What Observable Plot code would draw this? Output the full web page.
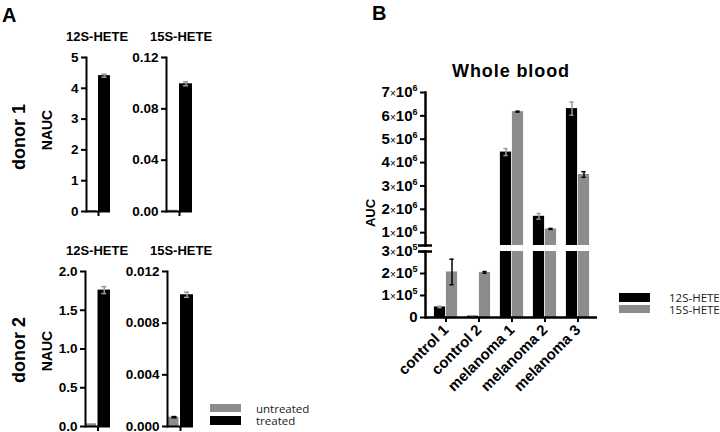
<!DOCTYPE html>
<html><head><meta charset="utf-8">
<script src="https://cdn.jsdelivr.net/npm/d3@7"></script>
<script src="https://cdn.jsdelivr.net/npm/@observablehq/plot@0.6"></script>
<style>
body{margin:0;background:#fff;}
#root{position:relative;width:720px;height:432px;overflow:hidden;background:#fff;}
.t{position:absolute;white-space:nowrap;line-height:1;}
.sw{position:absolute;}
</style></head>
<body><div id="root"></div>
<script>
// ---------------- DATA ----------------
// Panel A
const treatments = ["untreated", "treated"];
const treatmentColors = ["#8c8c8c", "#000000"];
const donors = ["donor 1", "donor 2"];
const lipids = ["12S-HETE", "15S-HETE"];
const d1Hete12 = [0.03, 4.41];
const d1Hete12Err = [0, 0.05];
const d1Hete15 = [0.001, 0.0995];
const d1Hete15Err = [0, 0.0015];
const d2Hete12 = [0.035, 1.76];
const d2Hete12Err = [0, 0.045];
const d2Hete15 = [0.00072, 0.0102];
const d2Hete15Err = [0.00005, 0.0002];
const ticksD1Hete12 = [0, 1, 2, 3, 4, 5];
const ticksD1Hete15 = [0, 0.04, 0.08, 0.12];
const ticksD2Hete12 = [0, 0.5, 1.0, 1.5, 2.0];
const ticksD2Hete15 = [0, 0.004, 0.008, 0.012];
// Panel B
const groupsB = ["control 1", "control 2", "melanoma 1", "melanoma 2", "melanoma 3"];
const seriesB = ["12S-HETE", "15S-HETE"];
const seriesColors = ["#000000", "#8c8c8c"];
const auc12 = [0.48e5, 0.06e5, 4.45e6, 1.70e6, 6.31e6];
const auc12Err = [0.03e5, 0.01e5, 0.15e6, 0.12e6, 0.28e6];
const auc15 = [2.07e5, 2.05e5, 6.18e6, 1.16e6, 3.49e6];
const auc15Err = [0.58e5, 0.04e5, 0.02e6, 0.02e6, 0.12e6];
const upperTicks = [1e6, 2e6, 3e6, 4e6, 5e6, 6e6, 7e6];
const lowerTicks = [0, 1e5, 2e5, 3e5];
const upperDomain = [0.45e6, 7e6];
const lowerDomain = [0, 3e5];

// ---------------- HELPERS ----------------
const FONT = '"Liberation Sans", Arial, Helvetica, sans-serif';
const LFONT = '"Open Sans", "DejaVu Sans", sans-serif';
const ERR_ON_BLACK = "#9a9a9a";
const root = document.getElementById("root");

function place(node, left, top) {
  const d = document.createElement("div");
  d.style.position = "absolute";
  d.style.left = left + "px";
  d.style.top = top + "px";
  d.appendChild(node);
  root.appendChild(d);
}
function label(text, x, baseline, {size = 13, weight = "bold", anchor = "start", family = FONT, color = "#000", ls = 0} = {}) {
  const d = document.createElement("div");
  d.className = "t";
  d.textContent = text;
  d.style.fontSize = size + "px";
  d.style.fontWeight = weight;
  d.style.fontFamily = family;
  d.style.color = color;
  d.style.letterSpacing = ls + "px";
  d.style.top = (baseline - 0.8465 * size) + "px";
  d.style.left = x + "px";
  if (anchor === "middle") d.style.transform = "translateX(-50%)";
  root.appendChild(d);
}
function vlabel(text, cx, cy, {size = 13, weight = "bold", family = FONT} = {}) {
  const d = document.createElement("div");
  d.className = "t";
  d.textContent = text;
  d.style.fontSize = size + "px";
  d.style.fontWeight = weight;
  d.style.fontFamily = family;
  d.style.left = cx + "px";
  d.style.top = cy + "px";
  d.style.transform = "translate(-50%,-50%) rotate(-90deg)";
  root.appendChild(d);
}
function swatch(x, y, w, h, color) {
  const d = document.createElement("div");
  d.className = "sw";
  Object.assign(d.style, {left: x + "px", top: y + "px", width: w + "px", height: h + "px", background: color});
  root.appendChild(d);
}
const baseStyle = {background: "none", overflow: "visible", maxWidth: "none", fontFamily: FONT, fontWeight: "bold", color: "black"};

// ---------------- PANEL A ----------------
function pairChart({group, values, errors, ticks, format, axisX, right, top, bottom}) {
  const ML = 42, MT = 10, MR = 4, MB = 8;
  const bw = right - axisX;
  const cap = 5;
  const data = treatments.map((t, i) => ({group, t, v: values[i], e: errors[i]}));
  const un = data.filter(d => d.t === "untreated");
  const tr = data.filter(d => d.t === "treated");
  const unE = un.filter(d => d.e > 0), trE = tr.filter(d => d.e > 0);
  const errMarks = (rows, dx, color) => [
    Plot.ruleX(rows, {x: "group", y1: d => d.v - d.e, y2: d => d.v + d.e, dx, stroke: color, strokeWidth: 1.5}),
    Plot.tickY(rows, {x: "group", y: d => d.v + d.e, insetLeft: bw / 2 + dx - cap / 2, insetRight: bw / 2 - dx - cap / 2, stroke: color, strokeWidth: 1.5}),
    Plot.tickY(rows, {x: "group", y: d => d.v - d.e, insetLeft: bw / 2 + dx - cap / 2, insetRight: bw / 2 - dx - cap / 2, stroke: color, strokeWidth: 1.5})
  ];
  const p = Plot.plot({
    width: ML + bw + MR, height: MT + (bottom - top) + MB,
    marginLeft: ML, marginRight: MR, marginTop: MT, marginBottom: MB,
    style: baseStyle,
    x: {domain: [group], padding: 0},
    y: {domain: [0, ticks[ticks.length - 1]]},
    marks: [
      Plot.barY(un, {x: "group", y: "v", fill: treatmentColors[0], insetLeft: 1, insetRight: bw / 2 + 1.5}),
      Plot.barY(tr, {x: "group", y: "v", fill: treatmentColors[1], insetLeft: bw / 2}),
      ...errMarks(trE, bw / 4, ERR_ON_BLACK),
      ...errMarks(unE, -bw / 4 + 0.5, "#000"),
      Plot.ruleY([0], {strokeWidth: 2}),
      Plot.frame({anchor: "left", strokeWidth: 2}),
      Plot.axisY({ticks, tickFormat: format, tickSize: 5, tickPadding: 3, strokeWidth: 2, fontSize: 13.5, fontWeight: "bold", fill: "#000", label: null}),
      Plot.axisX({tickSize: 5, strokeWidth: 2, tickFormat: () => "", label: null})
    ]
  });
  place(p, axisX - ML, top - MT);
}

pairChart({group: donors[0], values: d1Hete12, errors: d1Hete12Err, ticks: ticksD1Hete12, format: d3.format("d"), axisX: 86, right: 110, top: 57, bottom: 211});
pairChart({group: donors[0], values: d1Hete15, errors: d1Hete15Err, ticks: ticksD1Hete15, format: d3.format(".2f"), axisX: 166, right: 192, top: 57, bottom: 211});
pairChart({group: donors[1], values: d2Hete12, errors: d2Hete12Err, ticks: ticksD2Hete12, format: d3.format(".1f"), axisX: 85, right: 110, top: 271, bottom: 426});
pairChart({group: donors[1], values: d2Hete15, errors: d2Hete15Err, ticks: ticksD2Hete15, format: d3.format(".3f"), axisX: 167, right: 193, top: 271, bottom: 426});

label("A", 2, 22, {size: 20});
label(lipids[0], 97, 41, {size: 13, anchor: "middle"});
label(lipids[1], 181, 41, {size: 13, anchor: "middle"});
label(lipids[0], 97, 255, {size: 13, anchor: "middle"});
label(lipids[1], 181, 255, {size: 13, anchor: "middle"});
vlabel("NAUC", 47, 130, {size: 14});
vlabel("NAUC", 47, 351, {size: 14});
vlabel(donors[0], 19, 137, {size: 18});
vlabel(donors[1], 19, 350, {size: 18});
// legend A
swatch(210, 404, 31, 8, treatmentColors[0]);
swatch(210, 416, 31, 9, treatmentColors[1]);
label(treatments[0], 256, 412.5, {size: 11.5, weight: "normal", family: LFONT, color: "#222"});
label(treatments[1], 256, 425, {size: 11.5, weight: "normal", family: LFONT, color: "#222"});

// ---------------- PANEL B ----------------
const rowsB = groupsB.map((g, i) => ({g, a: auc12[i], ae: auc12Err[i], b: auc15[i], be: auc15Err[i]}));

function supText(svg) {
  svg.querySelectorAll("text").forEach(t => {
    const m = /^(.+)×10\^(\d+)$/.exec(t.textContent);
    if (!m) return;
    t.textContent = "";
    const add = (s, attrs) => {
      const ts = document.createElementNS("http://www.w3.org/2000/svg", "tspan");
      ts.textContent = s;
      for (const k in attrs) ts.setAttribute(k, attrs[k]);
      t.appendChild(ts);
    };
    add(m[1], {});
    add("×", {"font-size": 10, "font-weight": "normal"});
    add("10", {});
    add(m[2], {"font-size": 9, dy: -6});
  });
}

function segment({domain, ticks, format, svgTop, frameTop, frameBottom, MB, showX}) {
  const ML = 65, MR = 0, axisX = 425, right = 597;
  const MT = frameTop - svgTop;
  const padOuter = 0.044;
  const step = (right - axisX) / (groupsB.length + 2 * padOuter);
  const half = step / 2, bar = 12, cap = 5;
  const inA = d => d.a > domain[0] && d.a < domain[1];
  const inB = d => d.b > domain[0] && d.b < domain[1];
  const errMarks = (rows, val, err, dx, color) => [
    Plot.ruleX(rows, {x: "g", y1: d => val(d) - err(d), y2: d => val(d) + err(d), dx, stroke: color, strokeWidth: 1.5}),
    Plot.tickY(rows, {x: "g", y: d => val(d) + err(d), insetLeft: half + dx - cap / 2, insetRight: half - dx - cap / 2, stroke: color, strokeWidth: 1.5}),
    Plot.tickY(rows, {x: "g", y: d => val(d) - err(d), insetLeft: half + dx - cap / 2, insetRight: half - dx - cap / 2, stroke: color, strokeWidth: 1.5})
  ];
  const marks = [
    Plot.barY(rowsB, {x: "g", y: "a", fill: seriesColors[0], insetLeft: half - bar, insetRight: half}),
    Plot.barY(rowsB, {x: "g", y: "b", fill: seriesColors[1], insetLeft: half, insetRight: half - bar}),
    ...errMarks(rowsB.filter(inA), d => d.a, d => d.ae, -bar / 2, ERR_ON_BLACK),
    ...errMarks(rowsB.filter(inB), d => d.b, d => d.be, bar / 2, "#000"),
    Plot.frame({anchor: "left", strokeWidth: 2.5}),
    Plot.axisY({ticks, tickFormat: format, tickSize: 5, tickPadding: 3, strokeWidth: 2, fontSize: 15, fontWeight: "bold", fill: "#000", label: null}),
    // axis break mark
    Plot.axisY({ticks: [showX ? domain[1] : domain[0]], tickSize: 14, dx: 7, strokeWidth: 2.5, tickFormat: () => "", label: null})
  ];
  if (showX) {
    marks.push(Plot.ruleY([0], {strokeWidth: 2.5}));
    marks.push(Plot.axisX({tickSize: 5, tickPadding: 5, tickRotate: -45, strokeWidth: 2, fontSize: 15, fontWeight: "bold", fill: "#000", label: null}));
  }
  const p = Plot.plot({
    width: ML + (right - axisX) + MR, height: MT + (frameBottom - frameTop) + MB,
    marginLeft: ML, marginRight: MR, marginTop: MT, marginBottom: MB,
    style: baseStyle,
    x: {domain: groupsB, paddingInner: 0, paddingOuter: padOuter, axis: showX ? undefined : null},
    y: {domain, clamp: true},
    marks
  });
  supText(p);
  place(p, axisX - ML, svgTop);
}

segment({domain: upperDomain, ticks: upperTicks, format: d => `${d / 1e6}×10^6`, svgTop: 80, frameTop: 92, frameBottom: 245, MB: 0, showX: false});
segment({domain: lowerDomain, ticks: lowerTicks, format: d => d === 0 ? "0" : `${d / 1e5}×10^5`, svgTop: 240, frameTop: 251, frameBottom: 317, MB: 110, showX: true});

label("B", 372, 20, {size: 20});
label("Whole blood", 511, 77, {size: 18, anchor: "middle", ls: 0.9});
vlabel("AUC", 370, 213, {size: 13});
// legend B
swatch(619, 293, 31, 9, seriesColors[0]);
swatch(619, 305, 31, 8, seriesColors[1]);
label(seriesB[0], 669, 302, {size: 11.5, weight: "normal", family: LFONT, color: "#222"});
label(seriesB[1], 669, 314, {size: 11.5, weight: "normal", family: LFONT, color: "#222"});
</script>
</body></html>
